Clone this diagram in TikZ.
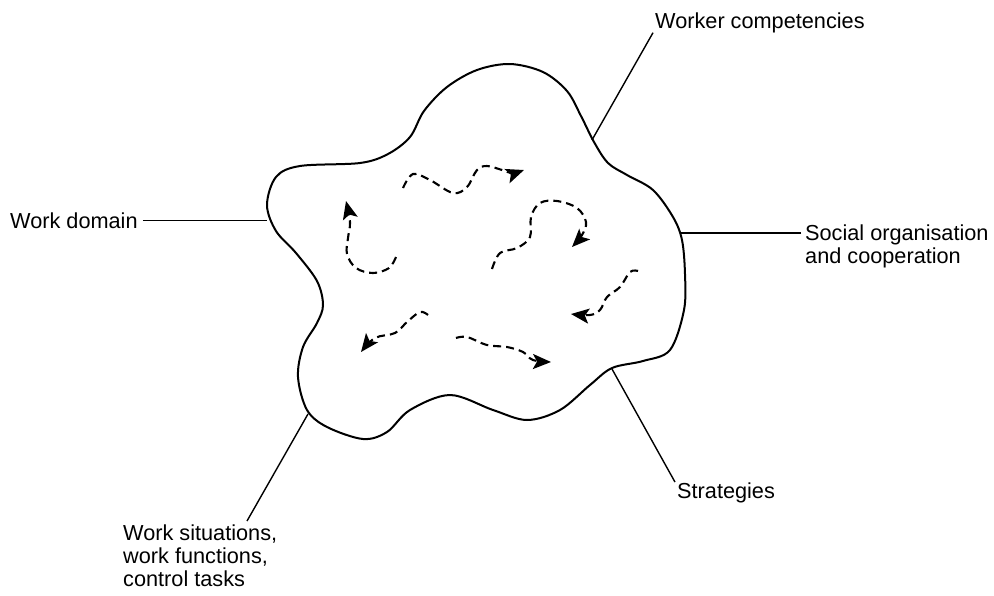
\documentclass[tikz,border=0pt]{standalone}
\usepackage{fontspec}
\setmainfont{Liberation Sans}
\usetikzlibrary{arrows.meta}
\begin{document}
\begin{tikzpicture}[x=1pt,y=-1pt,
  outline/.style={line width=2pt, line join=round},
  leader/.style={line width=1.4pt},
  flow/.style={line width=2.1pt, dash pattern=on 8pt off 5pt,
    -{Stealth[length=18pt,width=15pt,inset=4pt]}},
  lbl/.style={inner sep=0pt, font=\fontsize{21.7}{23}\selectfont, align=left}]
\useasboundingbox (0,0) rectangle (994,595);

% the work system boundary
\draw[outline] plot[smooth cycle, tension=0.55] coordinates {
  (267,205) (276,177) (300,166) (360,163) (388,154) (410,137) (424,111)
  (447,87) (477,70) (510,64) (543,72) (567,91) (581,116) (594,142)
  (608,163) (627,175) (653,190) (673,217) (682,240) (685,274) (684,310)
  (670,350) (643,361) (612,368) (590,385) (560,410) (527,420) (493,410)
  (450,395) (410,410) (387,432) (363,439) (327,427) (307,410) (298,377)
  (303,347) (317,323) (323,305) (317,281) (296,253) (276,231)};

% points where the leaders meet the boundary
\coordinate (bWD) at (267,219);
\coordinate (bWC) at (592,140);
\coordinate (bSO) at (680,233);
\coordinate (bST) at (612,369);
\coordinate (bWS) at (308,414);

% labels
\node[lbl, anchor=base west] (wd) at (10,228) {Work domain};
\node[lbl, anchor=base west] (wc) at (655,28) {Worker competencies};
\node[lbl, anchor=north west] (so) at (805,225) {Social organisation\\and cooperation};
\node[lbl, anchor=base west] (st) at (677,498) {Strategies};
\node[lbl, anchor=north west] (ws) at (123,525) {Work situations,\\work functions,\\control tasks};

% leaders
\draw[leader] ([xshift=5pt]wd.east) -- (wd.east -| bWD);
\draw[leader] ([xshift=-2pt]wc.south west) -- (bWC);
\draw[leader] ([shift={(-4,8)}]so.north west) -- (bSO);
\draw[leader] ([xshift=-2pt]st.north west) -- (bST);
\draw[leader] ([shift={(124,-4)}]ws.north west) -- (bWS);

% trajectories inside the work system
\draw[flow] plot[smooth, tension=0.6] coordinates {
  (396,257) (389,268) (373,273) (356,268) (347,254) (348,238) (350,222) (346,201)};
\draw[flow] plot[smooth, tension=0.6] coordinates {
  (403,188) (413,174) (430,180) (453,193) (467,187) (477,170) (487,166)
  (502,170) (512,173) (524,170)};
\draw[flow] plot[smooth, tension=0.6] coordinates {
  (492,269) (500,253) (517,248) (530,237) (531,217) (540,203) (557,201)
  (577,208) (586,222) (582,235) (572,247)};
\draw[flow] plot[smooth, tension=0.6] coordinates {
  (638,271) (630,272) (620,287) (607,297) (600,310) (590,315) (571,314)};
\draw[flow] plot[smooth, tension=0.6] coordinates {
  (428,315) (420,312) (407,322) (395,333) (375,338) (361,352)};
\draw[flow] plot[smooth, tension=0.6] coordinates {
  (456,338) (467,337) (487,345) (507,347) (523,352) (533,360) (551,362)};
\end{tikzpicture}
\end{document}
